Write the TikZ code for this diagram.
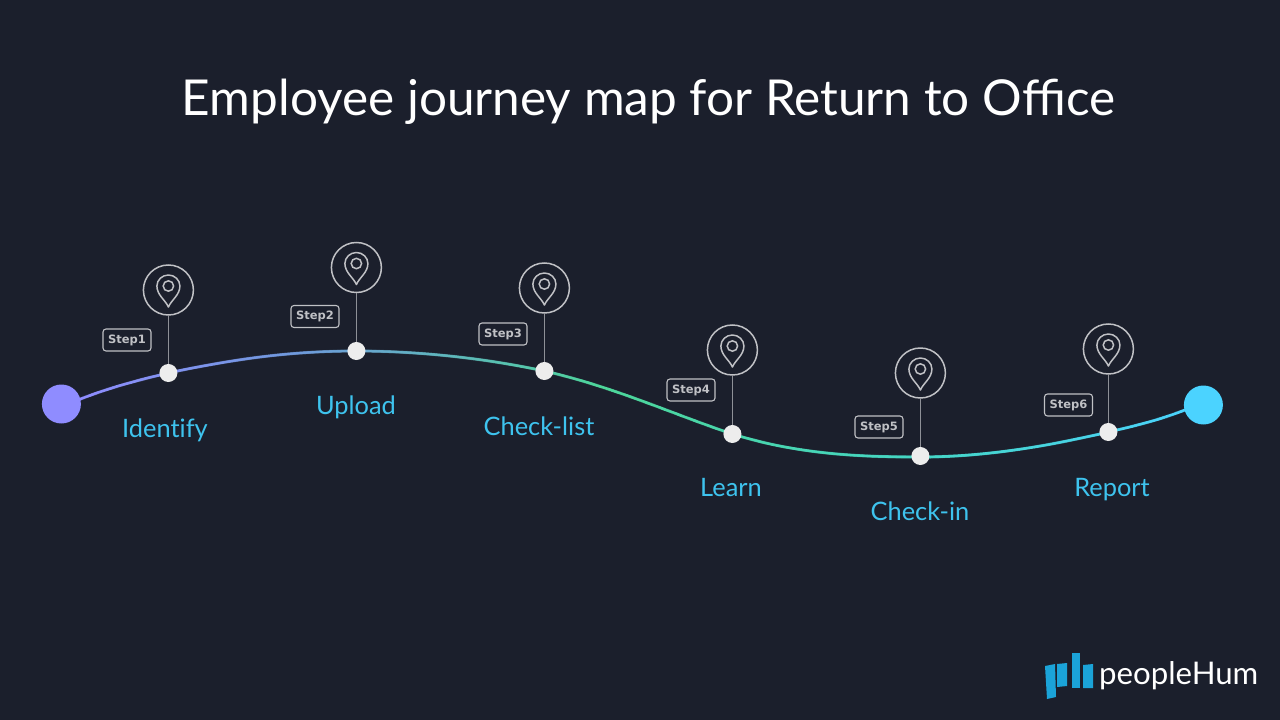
\documentclass[tikz,border=0pt]{standalone}
\usepackage{fontspec}
\setmainfont{Lato}
\newfontfamily\labfont{Lato}[Ligatures=NoCommon]
\newfontfamily\stepfont{DejaVu Sans Bold}
\usetikzlibrary{decorations.markings,calc}
\definecolor{bg}{HTML}{1B1F2C}
\definecolor{cPurple}{HTML}{8F8CFF}
\definecolor{cBlue}{HTML}{6F9ADC}
\definecolor{cGreen}{HTML}{4DD69A}
\definecolor{cTeal}{HTML}{45D6C4}
\definecolor{cCyan}{HTML}{4BD3FF}
\definecolor{labelc}{HTML}{3EC3EE}
\definecolor{pinc}{HTML}{C0C1C5}
\definecolor{dotc}{HTML}{EDEDED}
\definecolor{logoc}{HTML}{1BA3D8}
\tikzset{
 x=1pt,y=-1pt,
 title/.style={text=white,font=\fontsize{49.5}{60}\selectfont,inner sep=0pt,anchor=base},
 lab/.style={text=labelc,font=\labfont\fontsize{25.4}{28}\selectfont,inner sep=0pt,anchor=base},
 stepbox/.style={draw=pinc,rounded corners=3pt,line width=1.1pt,minimum width=48pt,minimum height=22pt,inner sep=0pt,text=pinc,font=\stepfont\fontsize{11.5}{14}\selectfont},
 ring/.style={circle,draw=pinc,line width=1.5pt,minimum size=50pt,inner sep=0pt},
 dot/.style={circle,fill=dotc,minimum size=18pt,inner sep=0pt},
 stem/.style={draw=pinc!70!bg,line width=1.8pt},
 startdot/.style={circle,minimum size=39pt,inner sep=0pt},
 logobar/.style={fill=logoc,draw=none},
 gradline/.style={decorate,decoration={markings,mark=between positions 0 and 1 step 1pt with {%
   \pgfkeysgetvalue{/pgf/decoration/mark info/distance from start}{\dd}%
   \pgfmathsetmacro{\fr}{\dd/\pgfdecoratedpathlength*100}%
   \ifdim\fr pt<20pt \pgfmathsetmacro{\mm}{100*\fr/20}\colorlet{cc}{cBlue!\mm!cPurple}%
   \else\ifdim\fr pt<47pt \pgfmathsetmacro{\mm}{100*(\fr-20)/27}\colorlet{cc}{cGreen!\mm!cBlue}%
   \else\ifdim\fr pt<75pt \pgfmathsetmacro{\mm}{100*(\fr-47)/28}\colorlet{cc}{cTeal!\mm!cGreen}%
   \else \pgfmathsetmacro{\mm}{min(100,100*(\fr-75)/25)}\colorlet{cc}{cCyan!\mm!cTeal}\fi\fi\fi
   \fill[cc] (0,0) circle (1.6pt);}}},
}
\newcommand{\pinicon}[1]{%
 \draw[pinc,line width=1.5pt,line join=round] ($(#1)+(0,17)$)
   .. controls +(-3,-7) and +(0,9) .. ($(#1)+(-11.5,-4)$)
   .. controls +(0,-6) and +(-6.3,0) .. ($(#1)+(0,-15)$)
   .. controls +(6.3,0) and +(0,-6) .. ($(#1)+(11.5,-4)$)
   .. controls +(0,9) and +(3,-7) .. cycle;
 \draw[pinc,line width=1.5pt] ($(#1)+(0,-4)$) circle (5.2pt);
}
\begin{document}
\begin{tikzpicture}
\useasboundingbox (0,0) rectangle (1280,720);
\fill[bg] (0,0) rectangle (1280,720);
\node[title] (t) at (648.5,115.5) {Employee journey map for Return to Office};

\coordinate (s) at (78,400);
\coordinate (d1) at (168.4,373);
\coordinate (d2) at (356.4,351);
\coordinate (d3) at (544.4,371);
\coordinate (d4) at (732.4,434);
\coordinate (d5) at (920.4,457);
\coordinate (d6) at (1108.4,432);
\coordinate (e) at (1190,408);

\path[gradline] (s) .. controls +(30,-12) and +(-30,7) .. (d1)
  .. controls +(65,-14) and +(-65,0) .. (d2)
  .. controls +(60,0) and +(-60,-13) .. (d3)
  .. controls +(70,16) and +(-60,-20) .. (d4)
  .. controls +(65,20) and +(-65,0) .. (d5)
  .. controls +(65,0) and +(-60,14) .. (d6)
  .. controls +(30,-7) and +(-30,12) .. (e);

\node[startdot,fill=cPurple] (start) at (61.4,404) {};
\node[startdot,fill=cCyan] (end) at (1203.4,405) {};

\foreach \i/\x/\ry/\dy/\bx/\by/\lx/\ly/\txt in {
 1/168.4/290/373/127/340/165/437/Identify,
 2/356.4/267.5/351/315/316.5/356/414/Upload,
 3/544.4/288/371/503/334/539/435/Check-list,
 4/732.4/350/434/691/390/731/496/Learn,
 5/920.4/373/456/879/427/920/520/Check-in,
 6/1108.4/349/432/1068.5/405/1112/496/Report}{
 \node[ring] (r\i) at (\x,\ry) {};
 \node[dot] (n\i) at (\x,\dy) {};
 \draw[stem] (r\i) -- (n\i);
 \pinicon{r\i}
 \node[stepbox] (b\i) at (\bx,\by) {Step\i};
 \node[lab] (l\i) at (\lx,\ly) {\txt};
}
\fill[logobar] (1045,666) -- (1055,664) -- (1056,697) -- (1047,699) -- cycle;
\fill[logobar] (1057,664) -- (1067,663) -- (1067,686) -- (1057,687) -- cycle;
\fill[logobar] (1072,653) -- (1080,653) -- (1080,688) -- (1072,688) -- cycle;
\fill[logobar] (1083,665) -- (1093,664) -- (1093,688) -- (1083,688) -- cycle;
\node[text=white,font=\fontsize{31.2}{36}\selectfont,inner sep=0pt,anchor=west] (logo) at (1099,675.5) {peopleHum};
\end{tikzpicture}
\end{document}
